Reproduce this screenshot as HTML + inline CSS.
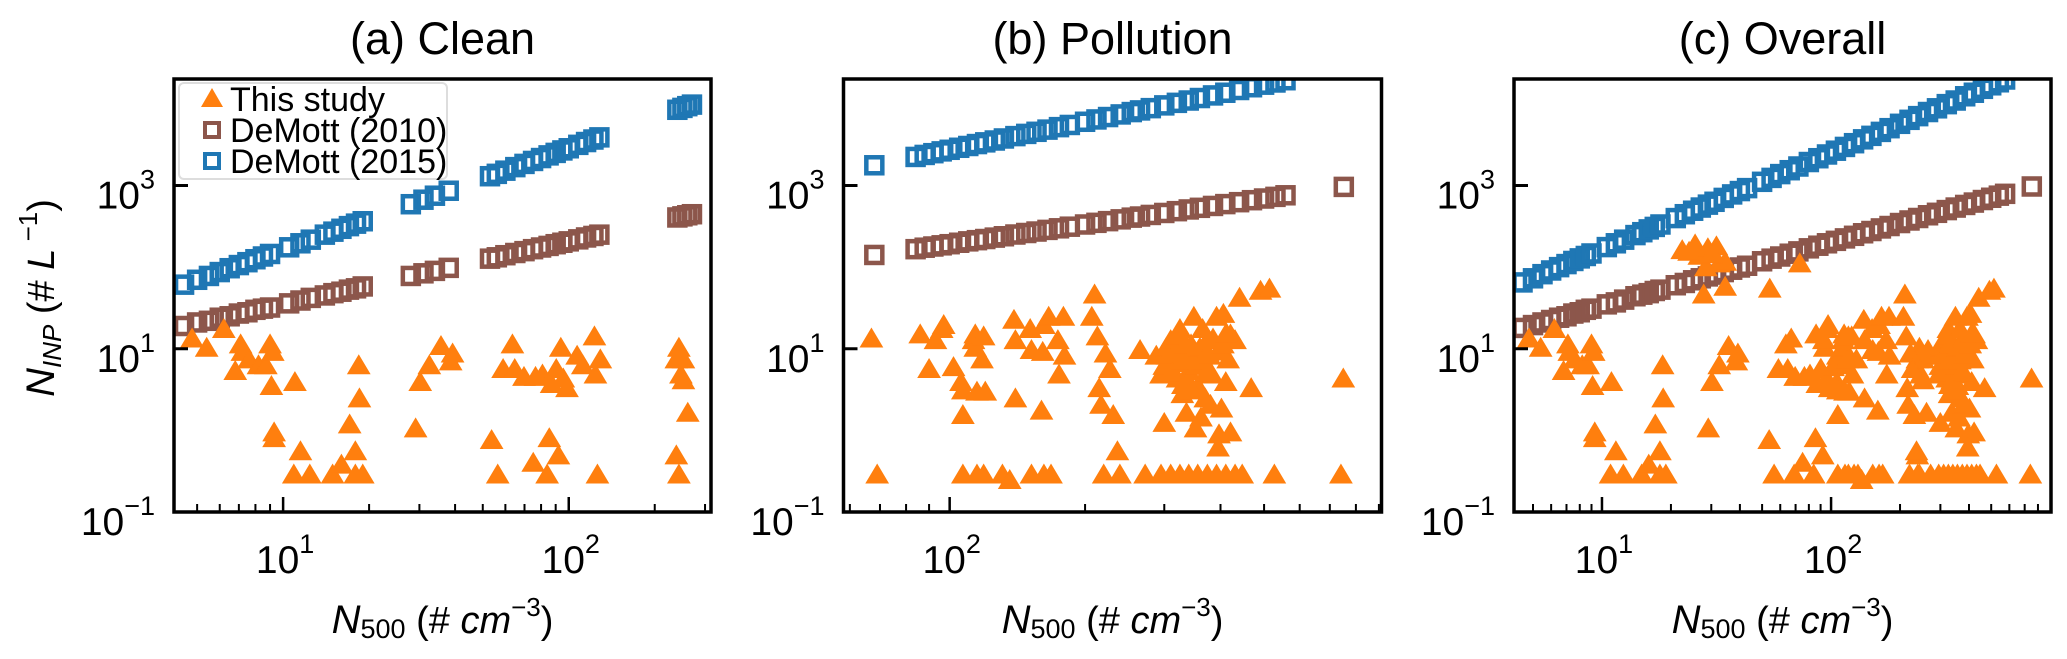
<!DOCTYPE html>
<html><head><meta charset="utf-8">
<style>
html,body{margin:0;padding:0;background:#fff;}
svg{display:block;font-family:"Liberation Sans",Arial,sans-serif;}
</style></head>
<body>
<svg id="fig" width="2067" height="659" viewBox="0 0 2067 659" xmlns="http://www.w3.org/2000/svg"></svg>
<script>
// ---------- data ----------
const yTickExps = [-1, 1, 3];
const panelTitles = ["(a) Clean", "(b) Pollution", "(c) Overall"];

// Panel (a) DeMott parameterisations
const aN500 = [4.5,5,5.5,6,6.5,7,7.5,8,8.5,9,10.5,11.5,12.5,14,15,16,17,18,19,28,31,34,38,53,56,60,65,70,75,80,85,90,95,100,108,115,122,128,240,250,260,270];
const aDeMott2010 = [19,21,22,24,25,27,28,30,31,32,36,39,42,45,48,50,53,55,58,78,84,90,98,127,132,140,149,157,166,174,182,191,199,207,219,231,241,250,406,419,432,445];
const aDeMott2015 = [61,70,78,87,97,106,115,125,135,145,175,196,217,250,272,295,318,341,365,590,670,750,863,1300,1390,1520,1680,1840,2000,2170,2340,2510,2690,2860,3150,3410,3660,3890,8470,8930,9380,9800];
// Panel (a) observations
const aObsN500 = [4.8,5.4,6.2,6.8,7.1,7.2,7.6,8.2,8.7,9.0,9.2,9.1,9.3,9.3,11,11.5,10.9,12.4,14.9,16,17.1,17.9,17.9,18.5,18.4,19,29.1,30.2,32.5,35.7,39.2,38.6,53.7,56.4,58.9,63.5,64.7,69.7,75.1,76.5,80.9,85.5,87.1,90.4,84,92,93.8,95.7,98.6,107,112,123,124,129,126,238,243,243,252,247,252,261,238];
const aObsINP = [13,10,17,5.2,11,8.9,7.2,6.1,6.1,11,8.9,3.4,0.92,0.78,3.8,0.54,0.28,0.28,0.28,0.37,1.15,0.54,0.28,2.4,6.1,0.28,1.03,3.8,6.1,10.5,8.5,6.8,0.74,0.28,5.5,11,5.5,4.4,0.39,4.4,4.7,0.78,3.6,5.5,0.28,0.48,10,4.2,3.2,8.0,6.1,13.8,4.7,7.2,0.28,0.48,0.28,10,7.2,4.7,4.0,1.6,7.2];

// Panel (b)
const bN500 = [68,84,88,92,96,100,105,110,115,120,126,132,140,148,156,165,175,185,200,212,225,240,254,265,280,300,320,340,360,385,410,440,470,500,530,558,752];
const bDeMott2010 = [141,166,173,179,185,191,199,207,214,221,230,239,251,262,273,286,299,313,333,349,366,385,404,417,436,461,485,509,533,562,592,625,661,693,726,759,962];
const bDeMott2015 = [1770,2240,2370,2490,2620,2740,2900,3050,3220,3380,3560,3770,4030,4290,4550,4840,5190,5520,6040,6450,6900,7430,7940,8320,8870,9590,10300,11000,11800,12700,13700,14800,16000,17200,18300,19500,null];
const bObsN500 = [67,69,86,90,93,96,97,102,106,107,107,113,114,114,115,118,119,120,139,140,140,151,152,160,161,162,166,174,175,179,180,207,210,213,215,217,222,227,231,236,265,288,295,303,310,317,321,325,329,332,336,340,344,349,352,356,365,370,374,383,392,397,402,406,411,416,421,421,431,441,468,491,514,527,750,741,
  107,115,119,131,136,152,162,168,220,239,272,295,310,325,340,356,374,392,411,431,447,
  300,305,312,318,322,328,334,338,345,350,355,360,365,372,378,385,395,405,412,330,346,362,380,395,300];
const bObsINP = [13,0.28,14.6,5.5,12.4,17,19,5.8,3.8,3.0,1.5,12.4,14.6,10,2.9,7.2,13.8,2.9,22,2.4,12.4,17,9.4,1.7,8.9,19,24,12.4,4.7,24,8.0,24,45,13.8,3.2,2.0,8.5,5.5,1.5,0.54,9.4,8.0,4.7,10,12.4,6.5,4.2,17,2.7,8.0,1.6,5.2,11,24,1.03,3.4,17,2.4,12.4,4.7,24,0.87,1.8,26,3.8,7.2,14.6,0.92,12.4,41,3.2,50,53,0.28,4.2,0.28,
  0.28,0.28,0.28,0.28,0.24,0.28,0.28,0.28,0.28,0.28,0.28,0.28,0.28,0.28,0.28,0.28,0.28,0.28,0.28,0.28,0.28,
  6,8,5,9,14,7,11,4,7,9,6,10,7,5,8,13,9,11,15,3.5,3,1.4,2,0.6,1.2];

// Panel (c)
const cN500 = [4.5,5,5.5,6,6.5,7,7.5,8,8.5,9,10.5,11.5,12.5,14,15,16,17,18,21,23,25,27,29,31,34,37,40,43,50,55,60,66,72,80,88,96,105,115,126,138,150,165,180,200,220,240,265,290,320,350,385,420,460,500,540,575,752];
const cDeMott2010 = [18,19.5,21,22.5,24,25,27,28,30,31,35,37,40,44,46,48,51,53,60,64,69,73,77,81,87,93,99,104,118,127,135,146,156,170,183,196,210,225,242,260,277,298,319,347,373,400,432,463,500,537,578,618,664,708,751,791,973];
const cDeMott2015 = [65,73,82,91,100,109,119,128,137,147,176,196,217,247,268,290,311,333,399,445,491,537,583,632,705,778,855,929,1110,1240,1380,1540,1710,1940,2160,2400,2670,2970,3300,3680,4060,4540,5040,5700,6380,7080,7950,8830,9930,11000,12400,13700,15300,16900,18400,19900,null];
const cExtraObsN500 = [22.4,25.5,26.6,29,31.6,32.4,34.5,27.8,34.5,28.4,73,54,24,30];
const cExtraObsINP = [157,185,134,166,175,108,113,45,56,97,108,53,150,140];
const cObsN500 = aObsN500.concat(bObsN500, cExtraObsN500);
const cObsINP = aObsINP.concat(bObsINP, cExtraObsINP);

// ---------- layout (not data) ----------
const PANELS = [
  {key:"a", left:174, right:711, lx0:0.618, lx1:2.498, major:[1,2], minor:[5,6,7,8,9,20,30,40,50,60,70,80,90,200,300],
   xs:aN500, brown:aDeMott2010, blue:aDeMott2015, ox:aObsN500, oy:aObsINP},
  {key:"b", left:843.5, right:1381.5, lx0:1.764, lx1:2.960, major:[2], minor:[60,70,80,90,200,300,400,500,600,700,800,900],
   xs:bN500, brown:bDeMott2010, blue:bDeMott2015, ox:bObsN500, oy:bObsINP},
  {key:"c", left:1514, right:2051, lx0:0.616, lx1:2.960, major:[1,2], minor:[5,6,7,8,9,20,30,40,50,60,70,80,90,200,300,400,500,600,700,800],
   xs:cN500, brown:cDeMott2010, blue:cDeMott2015, ox:cObsN500, oy:cObsINP}
];
const TOP = 79, BOT = 512, LY0 = -1, LY1 = 4.305;
const ORANGE = "#ff7f0e", BROWN = "#8c564b", BLUE = "#1f77b4";
const NS = "http://www.w3.org/2000/svg";
const svg = document.getElementById("fig");

function mk(tag, attrs, parent) {
  const e = document.createElementNS(NS, tag);
  for (const k in attrs) e.setAttribute(k, attrs[k]);
  (parent || svg).appendChild(e);
  return e;
}
function yScale(v) { return BOT - (Math.log10(v) - LY0) / (LY1 - LY0) * (BOT - TOP); }

PANELS.forEach((p, pi) => {
  const xScale = v => p.left + (Math.log10(v) - p.lx0) / (p.lx1 - p.lx0) * (p.right - p.left);
  const g = mk("g", {});
  
  
  const cx = (p.left + p.right) / 2;

  const t = mk("text", {x: cx, y: 54, "text-anchor": "middle", "font-size": 45, fill: "#000"}, g);
  t.textContent = panelTitles[pi];
  
  

  const cp = mk("clipPath", {id: "clip" + p.key}, g);
  mk("rect", {x: p.left, y: TOP, width: p.right - p.left, height: BOT - TOP}, cp);
  const plot = mk("g", {"clip-path": "url(#clip" + p.key + ")"}, g);
  
  

  p.xs.forEach((xv, i) => {
    const yv = p.brown[i];
    if (yv == null) return;
    const r = mk("rect", {x: xScale(xv) - 8, y: yScale(yv) - 8, width: 16, height: 16, fill: "none", stroke: BROWN, "stroke-width": 4.5}, plot);
    
    
  });
  p.xs.forEach((xv, i) => {
    const yv = p.blue[i];
    if (yv == null) return;
    const r = mk("rect", {x: xScale(xv) - 8, y: yScale(yv) - 8, width: 16, height: 16, fill: "none", stroke: BLUE, "stroke-width": 4.5}, plot);
    
    
  });
  p.ox.forEach((xv, i) => {
    const X = xScale(xv), Y = yScale(p.oy[i]);
    const tri = mk("path", {d: `M${X},${Y-11}L${X-11},${Y+7.5}L${X+11},${Y+7.5}Z`, fill: ORANGE, stroke: ORANGE, "stroke-width": 1}, plot);
    
    
  });

  const fr = mk("rect", {x: p.left, y: TOP, width: p.right - p.left, height: BOT - TOP, fill: "none", stroke: "#000", "stroke-width": 3.5}, g);
  
  

  yTickExps.forEach(e => {
    const Y = yScale(Math.pow(10, e));
    const tk = mk("line", {x1: p.left, x2: p.left + 14, y1: Y, y2: Y, stroke: "#000", "stroke-width": 3}, g);
    
    
    const lb = mk("text", {x: p.left - 19, y: Y + 23, "text-anchor": "end", "font-size": 39, fill: "#000"}, g);
    lb.innerHTML = '10<tspan dy="-20" font-size="27">' + (e < 0 ? "\u2212" + (-e) : e) + '</tspan>';
    
    
  });
  p.major.forEach(e => {
    const X = xScale(Math.pow(10, e));
    const tk = mk("line", {x1: X, x2: X, y1: BOT, y2: BOT - 15, stroke: "#000", "stroke-width": 2.5}, g);
    
    
    const lb = mk("text", {x: X + 2, y: 573, "text-anchor": "middle", "font-size": 39, fill: "#000"}, g);
    lb.innerHTML = '10<tspan dy="-20" font-size="27">' + e + '</tspan>';
    
    
  });
  p.minor.forEach(v => {
    const X = xScale(v);
    const tk = mk("line", {x1: X, x2: X, y1: BOT, y2: BOT - 8, stroke: "#000", "stroke-width": 2}, g);
    
    
  });

  const xl = mk("text", {x: cx, y: 633, "text-anchor": "middle", "font-size": 38, fill: "#000"}, g);
  xl.innerHTML = '<tspan font-style="italic" font-size="40">N</tspan><tspan font-size="27" dy="5">500</tspan><tspan dy="-5"> (# </tspan><tspan font-style="italic">cm</tspan><tspan dy="-17" font-size="26">\u22123</tspan><tspan dy="17">)</tspan>';
  
  
});

const yl = mk("text", {x: 0, y: 0, transform: "translate(54,298) rotate(-90)", "text-anchor": "middle", "font-size": 38, fill: "#000"});
yl.innerHTML = '<tspan font-style="italic" font-size="40">N</tspan><tspan font-style="italic" font-size="26" dy="7">INP</tspan><tspan dy="-7"> (# </tspan><tspan font-style="italic">L</tspan><tspan dy="-17" font-size="26"> \u22121</tspan><tspan dy="17">)</tspan>';



const lg = mk("g", {});


mk("rect", {x: 179, y: 83, width: 268, height: 96, rx: 5, fill: "rgba(255,255,255,0.85)", stroke: "#dddddd", "stroke-width": 2}, lg);
const legendLabels = ["This study", "DeMott (2010)", "DeMott (2015)"];
const legendColors = [ORANGE, BROWN, BLUE];
legendLabels.forEach((lab, i) => {
  const Y = 99 + i * 31;
  const ent = mk("g", {}, lg);
  
  
  if (i === 0) {
    mk("path", {d: `M212,${Y-11}L201,${Y+8}L223,${Y+8}Z`, fill: ORANGE}, ent);
  } else {
    mk("rect", {x: 205, y: Y - 7, width: 14, height: 14, fill: "none", stroke: legendColors[i], "stroke-width": 4}, ent);
  }
  const tx = mk("text", {x: 230, y: Y + 12, "font-size": 34, fill: "#000"}, ent);
  tx.textContent = lab;
});
</script>
</body></html>
